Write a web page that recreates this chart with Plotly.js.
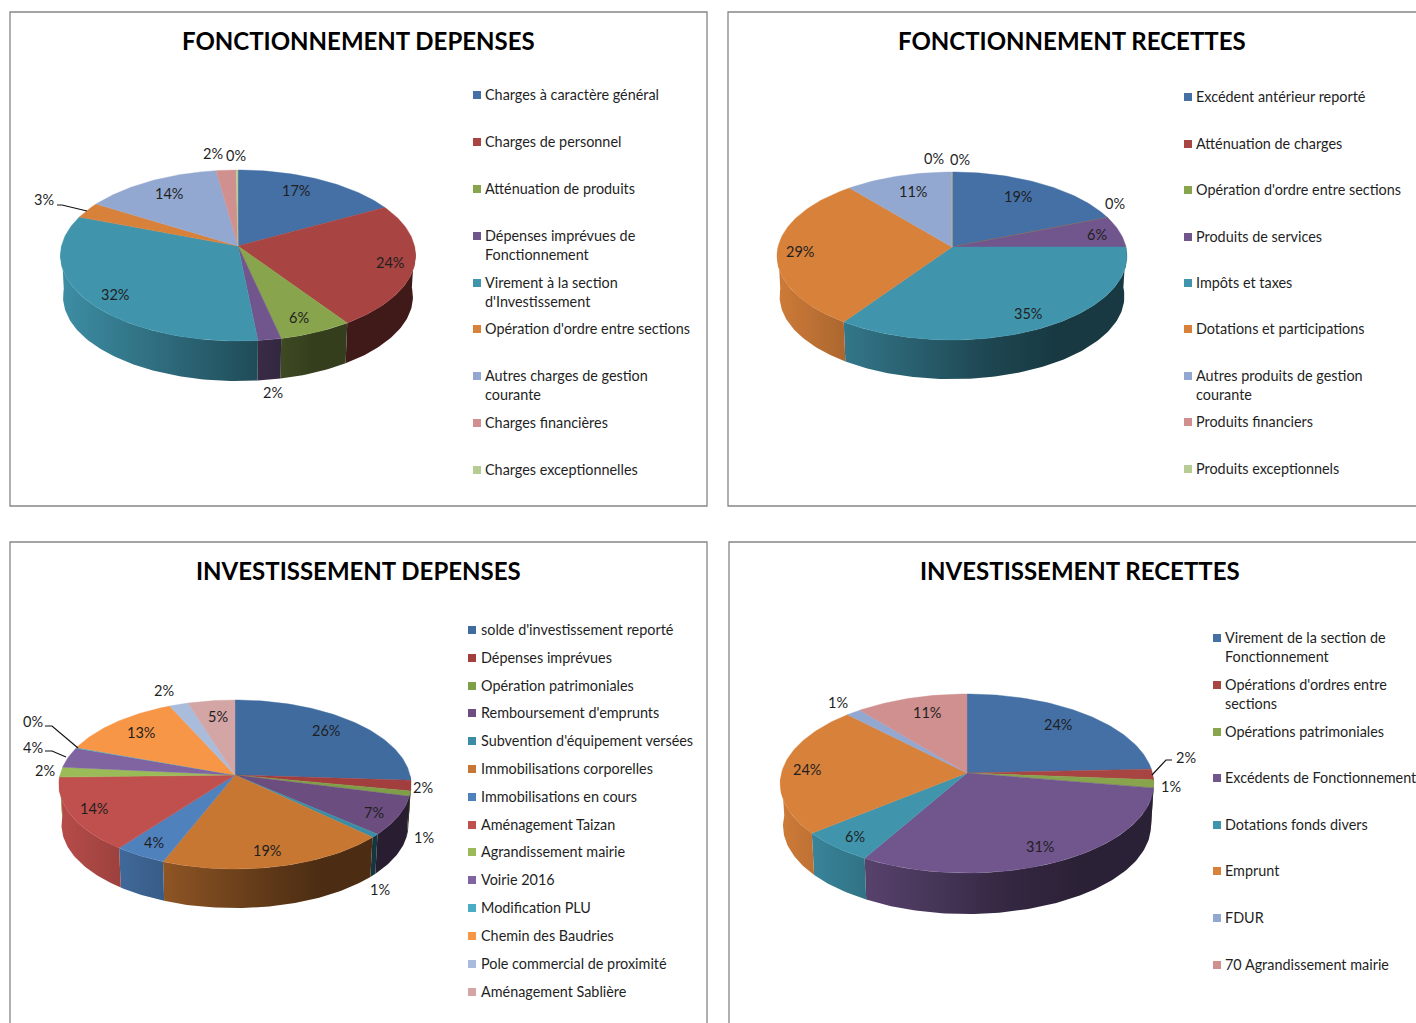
<!DOCTYPE html>
<html><head><meta charset="utf-8">
<script src="https://cdn.plot.ly/plotly-3.0.1.min.js"></script>
<style>html,body{margin:0;padding:0;background:#fff;overflow:hidden}</style>
</head><body><div id="chart" style="width:1416px;height:1023px"></div>
<script>
// ---- Data ----
const fdTitle = "FONCTIONNEMENT DEPENSES";
const fdNames = ["Charges à caractère général","Charges de personnel","Atténuation de produits","Dépenses imprévues de\nFonctionnement","Virement à la section\nd'Investissement","Opération d'ordre entre sections","Autres charges de gestion\ncourante","Charges financières","Charges exceptionnelles"];
const fdValues = [17,23.5,6,1.9,32.4,3,14,2,0.2];

const frTitle = "FONCTIONNEMENT RECETTES";
const frNames = ["Excédent antérieur reporté","Atténuation de charges","Opération d'ordre entre sections","Produits de services","Impôts et taxes","Dotations et participations","Autres produits de gestion\ncourante","Produits financiers","Produits exceptionnels"];
const frValues = [19,0,0,6,34.6,29.4,11,0,0];

const idTitle = "INVESTISSEMENT DEPENSES";
const idNames = ["solde d'investissement reporté","Dépenses imprévues","Opération patrimoniales","Remboursement d'emprunts","Subvention d'équipement versées","Immobilisations corporelles","Immobilisations en cours","Aménagement Taizan","Agrandissement mairie","Voirie 2016","Modification PLU","Chemin des Baudries","Pole commercial de proximité","Aménagement Sablière"];
const idValues = [26,2,1,7.4,0.7,18.9,4.3,14.3,1.9,3.9,0.15,12.7,1.95,4.8];

const irTitle = "INVESTISSEMENT RECETTES";
const irNames = ["Virement de la section de\nFonctionnement","Opérations d'ordres entre\nsections","Opérations patrimoniales","Excédents de Fonctionnement","Dotations fonds divers","Emprunt","FDUR","70 Agrandissement mairie"];
const irValues = [24.3,1.9,1.45,30.6,5.85,23.6,1.45,10.85];

// ---- Styles and layout ----
const palette = ["#4470a5","#a84442","#88a44c","#71568d","#4095ad","#d8813b","#92a8d0","#cf908f","#b7cc93"];
const paletteLong = ["#3f6b9e","#a33e3e","#7f9e48","#6b4d80","#3a8da5","#c87732","#4f81bd","#c0504d","#9bbb59","#8064a2","#4bacc6","#f79646","#a9bcdc","#d4a5a5"];
const panels = [
 {title:fdTitle,names:fdNames,values:fdValues,colors:palette,
  box:[10,12,707,506],area:[0,0,718,524],titleAt:[358,40],
  pie:{cx:238,cy:246,top:76,bot:95,a:176.5,dy:41.5},
  legX:477,txtX:483,legRows:[95,142,189,236,283,329,376,423,470],
  labels:[[296,190],[390,262],[299,317],[273,392],[115,294],[44,199],[169,193],[213,153],[236,155]],
  leaders:["M57,205 L62,205 L87,211"]},
 {title:frTitle,names:frNames,values:frValues,colors:palette,
  box:[728,12,1420,506],area:[718,0,1416,524],titleAt:[1072,40],
  pie:{cx:952,cy:247,top:75,bot:93,a:174,dy:40.5},
  legX:1188,txtX:1194,legRows:[97,144,190,237,283,329,376,422,469],
  labels:[[1018,196],[1115,203],null,[1097,234],[1028,313],[800,251],[913,191],[934,158],[960,159]],
  leaders:[]},
 {title:idTitle,names:idNames,values:idValues,colors:paletteLong,
  box:[10,542,707,1030],area:[0,524,718,1023],titleAt:[358,570],
  pie:{cx:235,cy:775,top:75,bot:94,a:175,dy:40.5},
  legX:472,txtX:479,legRows:[630,658,686,713,741,769,797,825,852,880,908,936,964,992],
  labels:[[326,730],[423,787],[424,837],[374,812],[380,889],[267,850],[154,842],[94,808],[45,770],[33,747],[33,721],[141,732],[164,690],[218,716]],
  leaders:["M45,726 L52,726 L78,748","M45,751 L52,751 L66,757"]},
 {title:irTitle,names:irNames,values:irValues,colors:palette,
  box:[729,542,1420,1030],area:[718,524,1416,1023],titleAt:[1080,570],
  pie:{cx:967,cy:773,top:79,bot:100,a:185.5,dy:42.5},
  legX:1217,txtX:1223,legRows:[638,685,732,778,825,871,918,965],
  labels:[[1058,724],[1186,757],[1171,786],[1040,846],[855,836],[807,769],[838,702],[927,712]],
  leaders:["M1172,760 L1166,760 L1152,775"]}
];
const FONT = "Lato, Carlito, Calibri, sans-serif";
const TEXT = "#1f1f1f", LEG_SIZE = 14.4, LBL_SIZE = 14.5, TITLE_SIZE = 24, LINE_H = 18.5, TXT_DY = -0.5;

function rgb(h){return [1,3,5].map(i=>parseInt(h.substr(i,2),16));}
function shade(h,f){const c=rgb(h).map(v=>Math.round(v*f));return `rgb(${c[0]},${c[1]},${c[2]})`;}

// Perspective projection of the tilted disc
function projector(p){
  const k=(p.bot/p.top), q=(k-1)/(k+1), b=p.top*(1+q);
  return (ang,low)=>{
    const u=Math.sin(ang), v=-Math.cos(ang), d=1-q*v;
    let X=p.a*u/d, Y=b*v/d;
    if(low){X*=0.985;Y=Y*0.985+p.dy;}
    return [p.cx+X,p.cy+Y];
  };
}
function arc(a0,a1){const n=Math.max(2,Math.ceil((a1-a0)/0.02));const r=[];for(let i=0;i<=n;i++)r.push(a0+(a1-a0)*i/n);return r;}
const TAU=Math.PI*2;

const traces=[], annotations=[], shapes=[], layout={};
panels.forEach((P,pi)=>{
  const sfx=pi===0?'':String(pi+1), xa='x'+sfx, ya='y'+sfx;
  const [ax0,ay0,ax1,ay1]=P.area;
  layout['xaxis'+sfx]={domain:[ax0/1416,ax1/1416],range:[ax0,ax1],visible:false,fixedrange:true,anchor:ya};
  layout['yaxis'+sfx]={domain:[1-ay1/1023,1-ay0/1023],range:[ay1,ay0],visible:false,fixedrange:true,anchor:xa};
  shapes.push({type:'rect',xref:xa,yref:ya,x0:P.box[0],y0:P.box[1],x1:P.box[2],y1:P.box[3],line:{color:'#868686',width:1.3},fillcolor:'rgba(0,0,0,0)',layer:'below'});
  P.leaders.forEach(path=>shapes.push({type:'path',xref:xa,yref:ya,path,line:{color:'#111',width:1.2}}));

  const proj=projector(P.pie), total=P.values.reduce((a,b)=>a+b,0);
  const left=P.pie.cx-P.pie.a, width=2*P.pie.a;
  const tops=[], walls=[];
  let acc=0;
  P.values.forEach((val,i)=>{
    const a0=acc/total*TAU; acc+=val; const a1=acc/total*TAU;
    const col=P.colors[i%P.colors.length], nm=P.names[i].replace(/\n/g,' ');
    const angs=arc(a0,a1), pts=angs.map(t=>proj(t,false));
    const c=[P.pie.cx,P.pie.cy];
    tops.push({type:'scatter',mode:'lines',xaxis:xa,yaxis:ya,showlegend:false,name:nm,
      x:[c[0],...pts.map(q=>q[0]),c[0]],y:[c[1],...pts.map(q=>q[1]),c[1]],
      fill:'toself',fillcolor:col,line:{color:col,width:0.4},hovertemplate:nm+': '+Math.round(val)+'%<extra></extra>'});
    // Front wall: the part of the arc facing the viewer
    const w0=Math.max(a0,Math.PI/2), w1=Math.min(a1,Math.PI*1.5);
    if(w1>w0){
      const wa=arc(w0,w1), up=wa.map(t=>proj(t,false)), lo=wa.map(t=>proj(t,true)).reverse();
      const xs=[...up,...lo].map(q=>q[0]), ys=[...up,...lo].map(q=>q[1]);
      const mn=Math.min(...xs), mx=Math.max(...xs);
      const stops=[0,.25,.5,.75,1].map(s=>{
        const t=(mn+(mx-mn)*s-left)/width;
        return [s,shade(col,Math.max(0.38,0.95-0.8*t))];
      });
      walls.push({type:'scatter',mode:'lines',xaxis:xa,yaxis:ya,showlegend:false,hoverinfo:'skip',
        x:[...xs,xs[0]],y:[...ys,ys[0]],fill:'toself',
        fillgradient:{type:'horizontal',colorscale:stops},line:{width:0,color:'rgba(0,0,0,0)'}});
    }
    // Percentage label
    const at=P.labels[i];
    if(at) annotations.push({xref:xa,yref:ya,x:at[0],y:at[1],text:Math.round(val)+'%',showarrow:false,xanchor:'center',yanchor:'middle',font:{family:FONT,size:LBL_SIZE,color:TEXT}});
  });
  traces.push(...walls,...tops);

  // Title
  annotations.push({xref:xa,yref:ya,x:P.titleAt[0],y:P.titleAt[1],text:'<b>'+P.title+'</b>',showarrow:false,xanchor:'center',yanchor:'middle',font:{family:FONT,size:TITLE_SIZE,color:'#000'}});

  // Legend
  traces.push({type:'scatter',mode:'markers',xaxis:xa,yaxis:ya,showlegend:false,hoverinfo:'skip',
    x:P.names.map(()=>P.legX),y:P.legRows,
    marker:{symbol:'square',size:8,color:P.names.map((_,i)=>P.colors[i%P.colors.length])}});
  P.names.forEach((n,i)=>n.split('\n').forEach((line,j)=>annotations.push({xref:xa,yref:ya,x:P.txtX,y:P.legRows[i]+j*LINE_H+TXT_DY,text:line,showarrow:false,xanchor:'left',yanchor:'middle',font:{family:FONT,size:LEG_SIZE,color:TEXT}})));
});

Object.assign(layout,{width:1416,height:1023,margin:{l:0,r:0,t:0,b:0,pad:0},paper_bgcolor:'#fff',plot_bgcolor:'#fff',showlegend:false,annotations,shapes,hovermode:'closest'});
Plotly.newPlot('chart',traces,layout,{displayModeBar:false,staticPlot:false});
</script></body></html>
